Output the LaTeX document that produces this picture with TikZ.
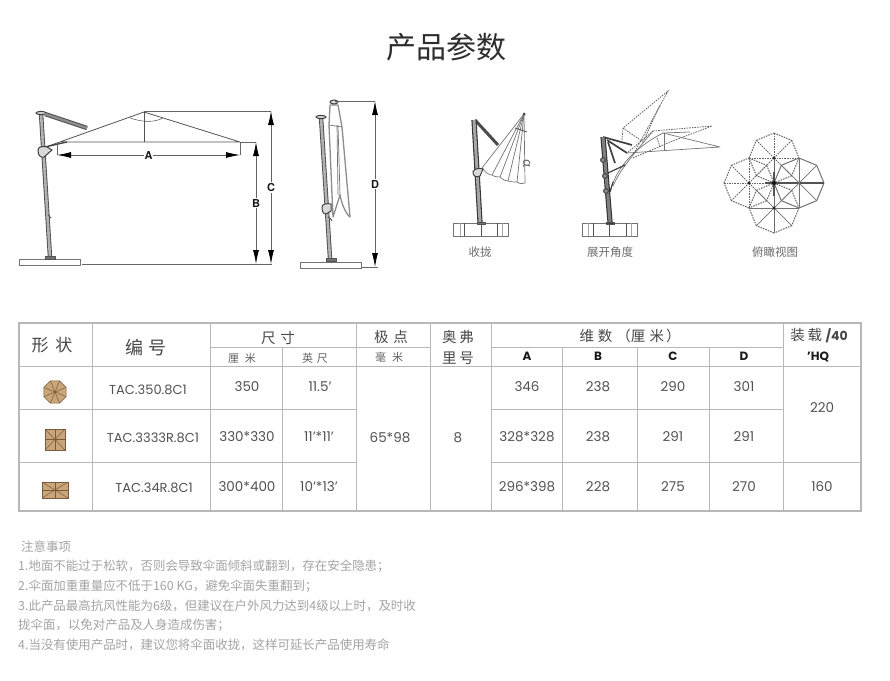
\documentclass[tikz,border=0pt]{standalone}
\usepackage{fontspec}
\setmainfont{Poppins}
\newfontfamily\cjk{Noto Sans CJK SC}
\newfontfamily\heros{TeX Gyre Heros}
\usetikzlibrary{arrows.meta}
\colorlet{tblgray}{black!28}
\colorlet{inkgray}{black!68}
\colorlet{notegray}{black!36}
\definecolor{tan}{HTML}{C9A67A}
\definecolor{tanline}{HTML}{7A5A38}
\newcommand\sz[1]{\fontsize{#1}{#1}\selectfont}
\tikzstyle{tbl}=[tblgray,line width=1pt]
\tikzstyle{tblout}=[tblgray,line width=2.6pt]
\tikzstyle{cell}=[text=black!68,font=\sz{13.5}]
\tikzstyle{codecell}=[text=black!68,font=\sz{13}]
\tikzstyle{head}=[text=black!72,font=\cjk\sz{14.5}]
\tikzstyle{subhead}=[text=black!62,font=\cjk\sz{11}]
\tikzstyle{letter}=[text=black!90,font=\sz{12}\bfseries]
\tikzstyle{caption}=[text=black!58,font=\cjk\sz{11.5}]
\tikzstyle{note}=[anchor=west,inner sep=0pt,text=notegray,font=\cjk\sz{12.45}]
\tikzstyle{ink}=[inkgray,line width=.8pt,line join=round]
\tikzstyle{pole}=[black!70,line width=.9pt,double=black!30,double distance=2.6pt]
\tikzstyle{polebk}=[black!80,line width=1.1pt,double=black!50,double distance=3pt]
\tikzstyle{arm}=[black!70,line width=3pt]
\tikzstyle{armhatch}=[black!70,line width=1pt,double=black!45,double distance=2.4pt]
\tikzstyle{thin}=[black!75,line width=1.7pt]
\tikzstyle{dim}=[black!60,line width=.8pt]
\tikzstyle{dimarr}=[black!62,line width=.8pt,{Latex[length=14pt,width=6pt,black]}-{Latex[length=14pt,width=6pt,black]}]
\tikzstyle{dimlab}=[fill=white,inner sep=1pt,text=black!90,font=\heros\sz{11}\bfseries]
\tikzstyle{slab}=[black!55,line width=.8pt,fill=white]
\tikzstyle{joint}=[black!75,line width=1pt,fill=black!15]
\tikzstyle{rib}=[black!55,line width=.7pt,line join=round]
\tikzstyle{ribd}=[black!60,line width=.8pt,dash pattern=on 1.6pt off 1pt]
\tikzstyle{icon}=[fill=tan,draw=tanline,line width=.5pt]
\begin{document}
\begin{tikzpicture}[x=1pt,y=-1pt]
	\useasboundingbox (0,0) rectangle (890,680);
	\node[text=black!82,font=\cjk\sz{30}] (title) at (446,47) {产品参数};

	% open umbrella
	\draw[slab] (19,259) rectangle (80,265);
	\draw[pole] (41,113) -- (50,257);
	\draw[joint] (41,113) ellipse (5pt and 1.6pt);
	\draw[ink,fill=black!55] (45,256) rectangle (55,259);
	\draw[ink,line width=1pt] (48,215) -- (51,218);
	\draw[armhatch] (45,114) -- (87,128);
	\draw[ink] (43,148) -- (144,112) -- (240,142) -- (60,142);
	\draw[ink] (144,112) -- (144,142);
	\draw[ink,line width=.5pt] (130,118) .. controls (145,123) and (155,122) .. (163,118);
	\draw[thin,line width=1.3pt] (45,147) -- (67,142);
	\draw[joint] (38,150) .. controls (38,146) and (44,146) .. (47,147) -- (52,150) -- (44,157)
		.. controls (40,158) and (38,155) .. (38,150) -- cycle;
	\coordinate (aL) at (57,155);
	\coordinate (aR) at (240,155);
	\coordinate (bT) at (256,142);
	\coordinate (bB) at (256,264);
	\coordinate (cT) at (271,111);
	\coordinate (cB) at (271,264);
	\draw[dim] (57,143) -- (aL);
	\draw[dim] (240,142) -- (aR);
	\draw[dim] (240,142) -- (bT);
	\draw[dim] (144,111) -- (cT);
	\draw[dim] (82,264) -- (272,264);
	\draw[dimarr] (aL) --node[dimlab] (labA) {A} (aR);
	\draw[dimarr] (bT) --node[dimlab] (labB) {B} (bB);
	\draw[dimarr] (cT) --node[dimlab] (labC) {C} (cB);

	% closed umbrella
	\draw[slab] (300,262) rectangle (361,268);
	\draw[rib,black!45,line width=1.3pt] (330,105) -- (329,125) -- (332,195) -- (333,217) -- (340,195)
		.. controls (342,205) and (346,214) .. (350,217) -- (342,127) -- (338,105) -- cycle;
	\draw[joint] (334,102) ellipse (4pt and 2pt);
	\draw[rib] (329,125) -- (342,127);
	\draw[rib] (337,125) -- (338,195);
	\draw[rib] (340,195) -- (338,125);
	\draw[pole] (321,117) -- (330,258);
	\draw[joint] (321,117) ellipse (5pt and 1.6pt);
	\draw[ink,fill=black!55] (326,258) rectangle (336,261);
	\draw[ink,line width=1pt] (328,217) .. controls (331,218) and (331,220) .. (332,221);
	\draw[joint] (322,207) .. controls (322,204) and (327,203) .. (331,204) -- (331,211) -- (326,214)
		.. controls (323,214) and (322,211) .. (322,207) -- cycle;
	\coordinate (dT) at (375,101);
	\coordinate (dB) at (375,267);
	\draw[dim] (335,101) -- (dT);
	\draw[dim] (362,267) -- (378,267);
	\draw[dimarr] (dT) --node[dimlab] (labD) {D} (dB);

	% folded canopy
	\draw[slab] (453,223) rectangle (508,236);
	\foreach \x in {464,481,497}
		\draw[ink] (\x,223) -- (\x,236);
	\foreach \x in {460,502}
		\draw[rib,black!35] (\x,223) -- (\x,236);
	\draw[arm] (475,120) -- (498,145);
	\draw[rib] (482,168) .. controls (486,173) and (489,175) .. (492,175)
		.. controls (495,177) and (498,177) .. (500,177)
		.. controls (503,180) and (506,181) .. (508,181)
		.. controls (511,182) and (514,182) .. (517,182)
		.. controls (520,184) and (523,184) .. (525,183) -- (524,114) -- cycle;
	\foreach \x/\y in {492/175,500/177,508/181,517/182}
		\draw[rib] (524,114) -- (\x,\y);
	\draw[ink] (515,128) -- (527,132);
	\fill[black!75] (524,114) circle (1.5pt);
	\draw[polebk,double=black!35] (474,120) -- (480,222);
	\draw[ink,fill=black!55] (477,222) rectangle (485,224);
	\draw[joint] (473,172) .. controls (474,168) and (480,168) .. (483,169) -- (480,176)
		.. controls (476,178) and (473,176) .. (473,172) -- cycle;
	\node[inner sep=0pt,text=black!60,rotate=-90,font=\sz{13}] (alpha) at (527,164) {\cjk α};

	% opening angles
	\draw[slab] (582,223) rectangle (637,236);
	\foreach \x in {593,609,626}
		\draw[ink] (\x,223) -- (\x,236);
	\foreach \x in {588,631}
		\draw[rib,black!35] (\x,223) -- (\x,236);
	\draw[ribd] (622,140) -- (623,128) -- (668,91) -- (633,155);
	\draw[ribd] (623,128) -- (643,142) -- (660,105);
	\draw[ribd] (653,131) -- (712,126) -- (670,142) -- (633,158);
	\draw[ribd] (653,131) -- (627,153);
	\draw[ribd] (657,138) -- (660,147);
	\draw[rib] (610,192) .. controls (615,172) and (630,150) .. (663,133) -- (720,147) -- (627,153);
	\draw[rib] (664,133) -- (664,150);
	\draw[rib] (613,186) .. controls (620,170) and (632,156) .. (653,131);
	\draw[rib] (663,133) -- (690,132);
	\draw[thin] (603,137) -- (632,145);
	\draw[thin] (607,140) -- (627,153);
	\draw[thin] (608,142) -- (615,163);
	\draw[thin,line width=1.2pt] (608,173) -- (625,165);
	\draw[thin,line width=1.2pt] (610,192) -- (613,182);
	\draw[polebk] (603,137) -- (610,222);
	\draw[ink,fill=black!75] (606,222) rectangle (614,224);
	\foreach \x/\y in {603/160,605/176,606/191}
		\draw[joint,fill=black!45] (\x,\y) circle (2.4pt);

	% top view
	\foreach \cx/\cy/\spk/\edg in {774/158/ribd/ribd,749/183/ribd/ribd,774/208/rib/ribd,799/183/rib/rib}{
		\foreach \a in {0,45,...,315}{
			\draw[\spk] (\cx,\cy) -- ++(\a:25);
			\draw[\edg,line width=1pt] ([shift={(\a:25)}]\cx,\cy) -- ([shift={(\a+45:25)}]\cx,\cy);
		}
	}
	\draw[ribd] (774,133) -- (774,233);
	\draw[ink,line width=1.2pt] (765,183) -- (824,183);
	\draw[ink,line width=1.2pt] (774,172) -- (774,196);
	\foreach \cx/\cy in {774/158,749/183,774/208}
		\fill[black!85] (\cx,\cy) circle (1.6pt);
	\fill[black!55] (799,183) circle (1.6pt);
	\fill[black!90] (774,183) circle (2.2pt);

	\node[caption] (capFold) at (480,252) {收拢};
	\node[caption] (capOpen) at (610,252) {展开角度};
	\node[caption] (capTop)  at (775,252) {俯瞰视图};

	% table
	\draw[tblout] (19,323) rectangle (861,511);
	\foreach \x/\ya/\yb in {92/323/511,210/323/511,282/347/511,356/323/511,430/323/511,491/323/511,562/347/511,637/347/511,709/347/511,783/323/511}
		\draw[tbl] (\x,\ya) -- (\x,\yb);
	\foreach \y/\xa/\xb in {347/210/430,347/491/783,366/19/861,409/19/356,409/491/783,462/19/356,462/491/861}
		\draw[tbl] (\xa,\y) -- (\xb,\y);

	\node[head,font=\cjk\sz{17}] (hShape) at (52,345) {形\hspace{7pt}状};
	\node[head,font=\cjk\sz{18}] (hCode)  at (146,348) {编\hspace{6pt}号};
	\node[head] (hSize)  at (278,338) {尺\hspace{5pt}寸};
	\node[head] (hPole)  at (391,337) {极\hspace{5pt}点};
	\node[head] (hOx1)   at (458,337) {奥\hspace{3pt}弗};
	\node[head] (hOx2)   at (458,358) {里\hspace{3pt}号};
	\node[head] (hDim)   at (630,336) {维\hspace{4pt}数\hspace{4pt}（厘\hspace{4pt}米\hspace{2pt}）};
	\node[head] (hLoad)  at (819,336) {装\hspace{3pt}载 {\fontspec{Poppins}\bfseries\sz{12.5}/40}};
	\node[letter] (hHQ) at (818,357) {'HQ};
	\node[subhead] (hCm)   at (242,358) {厘\hspace{6pt}米};
	\node[subhead] (hFt)   at (315,358) {英\hspace{4pt}尺};
	\node[subhead] (hMm)   at (389,357) {毫\hspace{6pt}米};
	\foreach \nm/\x/\t in {hA/527/A,hB/598/B,hC/673/C,hD/744/D}
		\node[letter] (\nm) at (\x,356) {\t};

	\foreach \nm/\x/\y/\t in {
		codeA/148/390/TAC.350.8C1, codeB/153/438/TAC.3333R.8C1, codeC/154/488/TAC.34R.8C1}
		\node[codecell] (\nm) at (\x,\y) {\t};
	\foreach \nm/\x/\y/\t in {
		cmA/247/387/350, ftA/320/387/11.5',
		dA/527/387/346, dB/598/387/238, dC/673/387/290, dD/744/387/301,
		cmB/247/437/330*330, ftB/319/437/11'*11',
		eA/527/437/328*328, eB/598/437/238, eC/673/437/291, eD/744/437/291,
		cmC/247/487/300*400, ftC/319/487/10'*13',
		fA/527/487/296*398, fB/598/487/228, fC/673/487/275, fD/744/487/270,
		poleAll/390/438/65*98, ribAll/458/438/8, loadA/822/408/220, loadB/822/487/160}
		\node[cell] (\nm) at (\x,\y) {\t};

	% shape icons
	\draw[icon] (22.5:12) ++(55,392) \foreach \a in {67.5,112.5,...,337.5}{ -- ([shift={(\a:12)}]55,392) } -- cycle;
	\foreach \a in {22.5,67.5,...,337.5}
		\draw[tanline,line width=.5pt] (55,392) -- ++(\a:12);
	\draw[icon] (45,429) rectangle (65,450);
	\foreach \xa/\ya/\xb/\yb in {45/429/65/450,45/450/65/429,55/429/55/450,45/439.5/65/439.5}
		\draw[tanline,line width=.5pt] (\xa,\ya) -- (\xb,\yb);
	\draw[icon] (42,482) rectangle (68,498);
	\foreach \xa/\ya/\xb/\yb in {42/482/68/498,42/498/68/482,55/482/55/498,42/490/68/490}
		\draw[tanline,line width=.5pt] (\xa,\ya) -- (\xb,\yb);

	% notes
	\foreach \nm/\x/\y/\t in {
		noteHead/21/547/注意事项,
		noteA/18/566/1.地面不能过于松软，否则会导致伞面倾斜或翻到，存在安全隐患；,
		noteB/18/586/2.伞面加重重量应不低于160 KG，避免伞面失重翻到；,
		noteC/18/606/3.此产品最高抗风性能为6级，但建议在户外风力达到4级以上时，及时收,
		noteD/18/625/拢伞面，以免对产品及人身造成伤害；,
		noteE/18/645/4.当没有使用产品时，建议您将伞面收拢，这样可延长产品使用寿命}
		\node[note] (\nm) at (\x,\y) {\t};
\end{tikzpicture}
\end{document}
